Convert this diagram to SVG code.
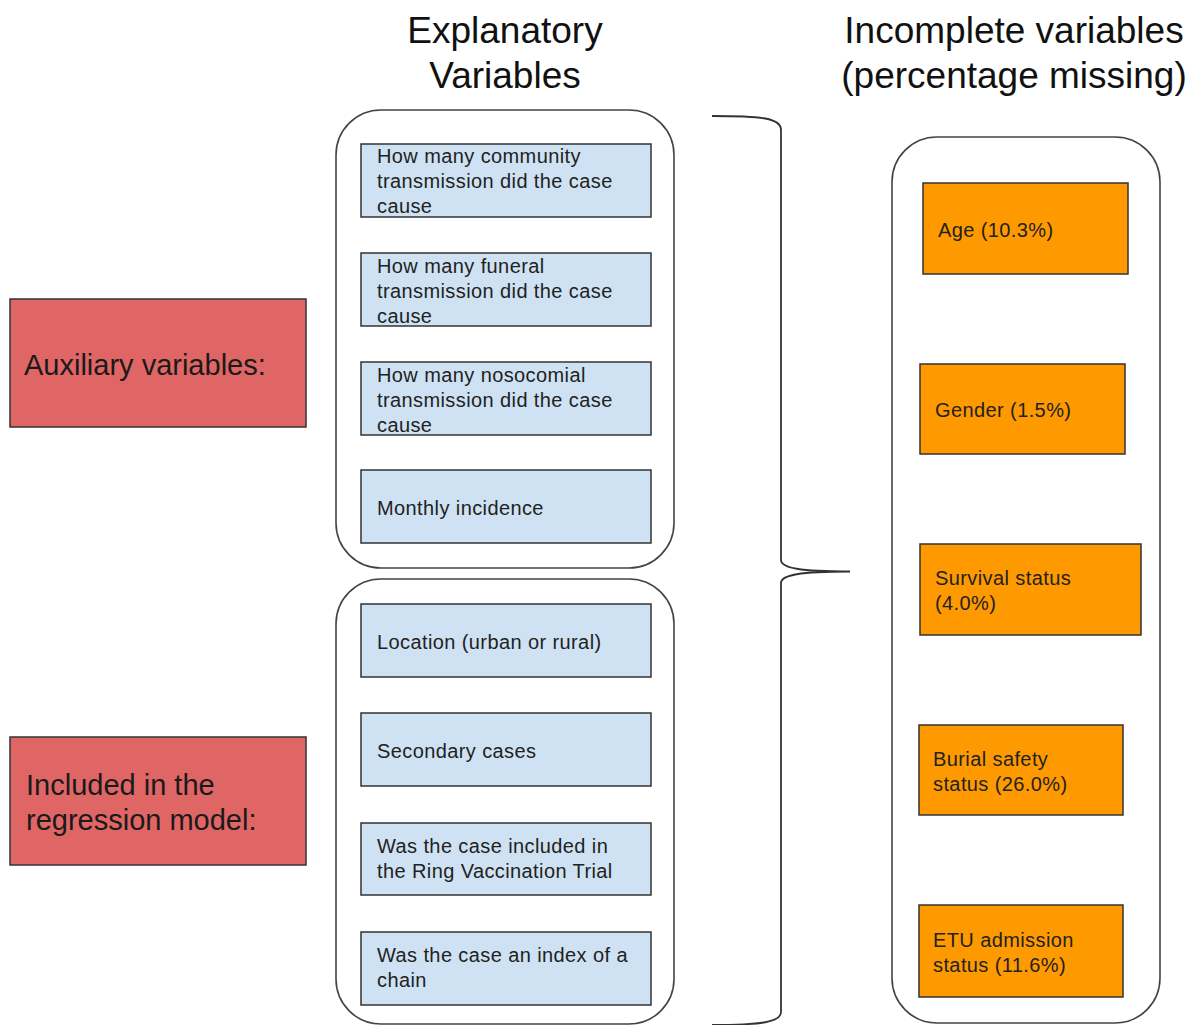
<svg xmlns="http://www.w3.org/2000/svg" width="1197" height="1025" viewBox="0 0 1197 1025">
<style>
  .title { font-family: "Liberation Sans", Arial, sans-serif; font-size: 37px; fill: #111; text-anchor: middle; }
  .cont { fill: #fff; stroke: #444; stroke-width: 1.6; }
  .blue { fill: #cfe2f3; stroke: #333; stroke-width: 1.5; }
  .orange { fill: #ff9900; stroke: #333; stroke-width: 1.5; }
  .red { fill: #e06666; stroke: #333; stroke-width: 1.5; }
  .t { font-family: "Liberation Sans", Arial, sans-serif; font-size: 20px; letter-spacing: 0.4px; fill: #222; }
  .big { font-family: "Liberation Sans", Arial, sans-serif; font-size: 29px; fill: #1a1a1a; }
  .brace { fill: none; stroke: #333; stroke-width: 1.8; }
</style>
<rect width="1197" height="1025" fill="#fff"/>

<g id="titles">
  <text class="title" x="505" y="43">Explanatory</text>
  <text class="title" x="505" y="88">Variables</text>
  <text class="title" x="1014" y="43">Incomplete variables</text>
  <text class="title" x="1014" y="88">(percentage missing)</text>
</g>

<g id="container-auxiliary">
  <rect class="cont" x="336" y="110" width="338" height="458" rx="45" ry="45"/>
</g>
<g id="container-regression">
  <rect class="cont" x="336" y="579" width="338" height="445" rx="45" ry="45"/>
</g>
<g id="container-incomplete">
  <rect class="cont" x="892" y="137" width="268" height="886" rx="45" ry="45"/>
</g>

<g id="label-auxiliary">
  <rect class="red" x="10" y="299" width="296" height="128"/>
  <text class="big" x="24" y="375">Auxiliary variables:</text>
</g>
<g id="label-regression">
  <rect class="red" x="10" y="737" width="296" height="128"/>
  <text class="big" x="26" y="795">Included in the</text>
  <text class="big" x="26" y="830">regression model:</text>
</g>

<g id="var-community">
  <rect class="blue" x="361" y="144" width="290" height="73"/>
  <text class="t" x="377" y="163">How many community</text>
  <text class="t" x="377" y="188">transmission did the case</text>
  <text class="t" x="377" y="213">cause</text>
</g>
<g id="var-funeral">
  <rect class="blue" x="361" y="253" width="290" height="73"/>
  <text class="t" x="377" y="273">How many funeral</text>
  <text class="t" x="377" y="298">transmission did the case</text>
  <text class="t" x="377" y="323">cause</text>
</g>
<g id="var-nosocomial">
  <rect class="blue" x="361" y="362" width="290" height="73"/>
  <text class="t" x="377" y="382">How many nosocomial</text>
  <text class="t" x="377" y="407">transmission did the case</text>
  <text class="t" x="377" y="432">cause</text>
</g>
<g id="var-monthly">
  <rect class="blue" x="361" y="470" width="290" height="73"/>
  <text class="t" x="377" y="515">Monthly incidence</text>
</g>
<g id="var-location">
  <rect class="blue" x="361" y="604" width="290" height="73"/>
  <text class="t" x="377" y="649">Location (urban or rural)</text>
</g>
<g id="var-secondary">
  <rect class="blue" x="361" y="713" width="290" height="73"/>
  <text class="t" x="377" y="758">Secondary cases</text>
</g>
<g id="var-ring">
  <rect class="blue" x="361" y="823" width="290" height="72"/>
  <text class="t" x="377" y="853">Was the case included in</text>
  <text class="t" x="377" y="878">the Ring Vaccination Trial</text>
</g>
<g id="var-index">
  <rect class="blue" x="361" y="932" width="290" height="73"/>
  <text class="t" x="377" y="962">Was the case an index of a</text>
  <text class="t" x="377" y="987">chain</text>
</g>

<g id="inc-age">
  <rect class="orange" x="923" y="183" width="205" height="91"/>
  <text class="t" x="938" y="237">Age (10.3%)</text>
</g>
<g id="inc-gender">
  <rect class="orange" x="920" y="364" width="205" height="90"/>
  <text class="t" x="935" y="417">Gender (1.5%)</text>
</g>
<g id="inc-survival">
  <rect class="orange" x="920" y="544" width="221" height="91"/>
  <text class="t" x="935" y="585">Survival status</text>
  <text class="t" x="935" y="610">(4.0%)</text>
</g>
<g id="inc-burial">
  <rect class="orange" x="919" y="725" width="204" height="90"/>
  <text class="t" x="933" y="766">Burial safety</text>
  <text class="t" x="933" y="791">status (26.0%)</text>
</g>
<g id="inc-etu">
  <rect class="orange" x="919" y="905" width="204" height="92"/>
  <text class="t" x="933" y="947">ETU admission</text>
  <text class="t" x="933" y="972">status (11.6%)</text>
</g>

<g id="connectors">
  <path class="brace" d="M712,116 C762,116 781,118 781,130 L781,560 C781,568 800,571.5 850,571.5 C800,571.5 781,575 781,583 L781,1012 C781,1022 762,1025 712,1025"/>
</g>
</svg>
